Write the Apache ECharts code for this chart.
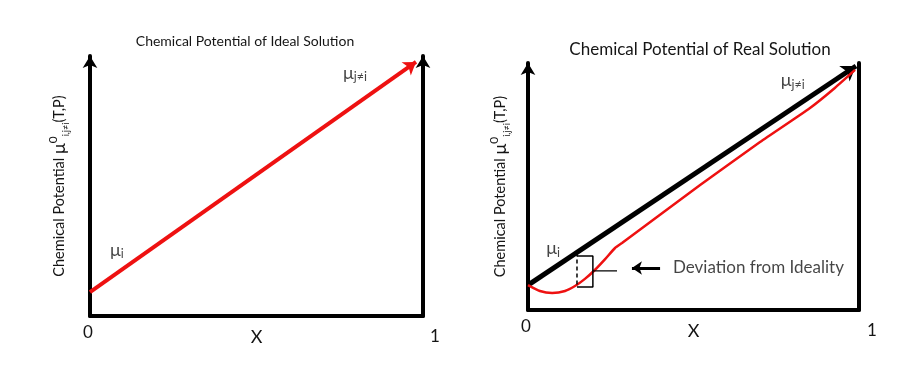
<!DOCTYPE html>
<html><head><meta charset="utf-8">
<script src="https://cdn.jsdelivr.net/npm/echarts@6/dist/echarts.min.js"></script>
<style>html,body{margin:0;padding:0;background:#fff}#c{width:911px;height:375px}</style>
</head><body><div id="c"></div>
<script>
// ---- data ----
var xTicks = [0, 1];
var idealLine = [[0, 0.092], [0.979, 0.977]];           // ideal solution μ (red arrow)
var realIdeal = [[0, 0.101], [0.991, 0.988]];           // ideal reference (black arrow)
var realCurveX = [0, 0.036, 0.073, 0.112, 0.142, 0.172, 0.202, 0.233, 0.263, 0.284, 0.520, 0.701, 0.852, 0.927, 0.988];
var realCurveY = [0.101, 0.077, 0.069, 0.077, 0.097, 0.126, 0.162, 0.206, 0.251, 0.271, 0.506, 0.680, 0.818, 0.899, 0.972];
var devDashed = [[0.148, 0.233], [0.148, 0.093]];
var devBracket = [[0.148, 0.219], [0.196, 0.219], [0.196, 0.093], [0.148, 0.093]];
var devTick = [[0.196, 0.158], [0.269, 0.158]];
var devArrow = [[0.314, 0.170], [0.399, 0.170]];
var leftLabels = [[0.081, 0.254, 'mu_i'], [0.796, 0.935, 'mu_j']];
var rightLabels = [[0.076, 0.251, 'mu_i'], [0.80, 0.931, 'mu_j'], [0.438, 0.170, 'dev']];

var FONT = 'Lato';
var TXT = '#151515';
var chart = echarts.init(document.getElementById('c'));
var realCurve = realCurveX.map(function (x, i) { return [x, realCurveY[i]]; });

var yNameRich = {
  b: { fontFamily: FONT, fontSize: 14.5, color: TXT, lineHeight: 24 },
  m: { fontFamily: FONT, fontSize: 18, color: TXT, lineHeight: 24 },
  sup: { fontFamily: FONT, fontSize: 12, color: TXT, verticalAlign: 'top', lineHeight: 18 },
  sub: { fontFamily: FONT, fontSize: 9, color: TXT, verticalAlign: 'bottom', lineHeight: 16 }
};
var yName = '{b|Chemical Potential }{m|μ}{sup|0}{sub|i,j≠i}{b|(T,P)}';

function xAxisFor(gi, shift) {
  return {
    gridIndex: gi, type: 'value', min: 0, max: 1, interval: 1,
    name: 'X', nameLocation: 'middle', nameGap: 12, nameMoveOverlap: false,
    nameTextStyle: { fontFamily: FONT, fontSize: 18, color: TXT, verticalAlign: 'top' },
    axisLine: { lineStyle: { color: '#000', width: 4 } },
    axisTick: { show: false }, splitLine: { show: false },
    axisLabel: {
      margin: 8, fontFamily: FONT, fontSize: 17, color: TXT,
      formatter: function (v) { return v === 1 ? '{r|1}' : '{l|0}'; },
      rich: {
        l: { fontFamily: FONT, fontSize: 17, color: TXT, padding: [0, 4, 0, 0] },
        r: { fontFamily: FONT, fontSize: 17, color: TXT, padding: [4, 0, 0, shift] }
      }
    }
  };
}
function yAxisFor(gi, pos, arrow, gap) {
  var o = {
    gridIndex: gi, type: 'value', min: 0, max: 1, position: pos,
    axisLine: { show: true, onZero: false, lineStyle: { color: '#000', width: 4 },
      symbol: arrow ? ['none', 'arrow'] : 'none', symbolSize: [11, 12] },
    axisTick: { show: false }, axisLabel: { show: false }, splitLine: { show: false }
  };
  if (pos === 'left') {
    o.name = yName; o.nameLocation = 'middle'; o.nameGap = gap; o.nameRotate = 90;
    o.nameMoveOverlap = false;
    o.nameTextStyle = { rich: yNameRich };
  }
  return o;
}
function muLabel(d) {
  if (d[2] === 'mu_i') return '{m|μ}{s|i}';
  if (d[2] === 'mu_j') return '{m|μ}{s|j≠i}';
  return '{d|Deviation from Ideality}';
}
var labelRich = {
  m: { fontFamily: FONT, fontSize: 18, color: TXT, lineHeight: 22 },
  s: { fontFamily: FONT, fontSize: 12.5, color: TXT, verticalAlign: 'bottom', lineHeight: 15 },
  d: { fontFamily: FONT, fontSize: 17, color: TXT }
};
function textSeries(xi, yi, arr) {
  return {
    type: 'scatter', xAxisIndex: xi, yAxisIndex: yi, symbolSize: 0, silent: true,
    data: arr.map(function (d) {
      return { value: [d[0], d[1]], label: {
        show: true, position: 'inside', formatter: muLabel(d), rich: labelRich,
        align: d[2] === 'dev' ? 'left' : 'center' } };
    })
  };
}

chart.setOption({
  animation: false,
  title: [
    { text: 'Chemical Potential of Ideal Solution', left: 240, top: 29, textAlign: 'center',
      textStyle: { fontFamily: FONT, fontSize: 14, fontWeight: 'normal', color: TXT } },
    { text: 'Chemical Potential of Real Solution', left: 695, top: 36, textAlign: 'center',
      textStyle: { fontFamily: FONT, fontSize: 17, fontWeight: 'normal', color: TXT } }
  ],
  grid: [
    { left: 90, top: 56, width: 333, height: 260 },
    { left: 528, top: 63, width: 331, height: 247 }
  ],
  xAxis: [xAxisFor(0, 24), xAxisFor(1, 26)],
  yAxis: [yAxisFor(0, 'left', true, 19), yAxisFor(0, 'right', true), yAxisFor(1, 'left', true, 16), yAxisFor(1, 'right', false)],
  series: [
    { type: 'lines', coordinateSystem: 'cartesian2d', xAxisIndex: 0, yAxisIndex: 0,
      symbol: ['none', 'arrow'], symbolSize: 12,
      lineStyle: { color: '#ee1111', width: 4, opacity: 1 },
      data: [{ coords: idealLine }] },
    { type: 'line', xAxisIndex: 1, yAxisIndex: 2, data: realCurve, smooth: 0.2, showSymbol: false,
      lineStyle: { color: '#ee1111', width: 2.5 } },
    { type: 'lines', coordinateSystem: 'cartesian2d', xAxisIndex: 1, yAxisIndex: 2,
      symbol: ['none', 'arrow'], symbolSize: 14,
      lineStyle: { color: '#000', width: 5, opacity: 1 },
      data: [{ coords: realIdeal }] },
    { type: 'line', xAxisIndex: 1, yAxisIndex: 2, data: devDashed, showSymbol: false,
      lineStyle: { color: '#000', width: 1.5, type: [4, 3] } },
    { type: 'line', xAxisIndex: 1, yAxisIndex: 2, data: devBracket, showSymbol: false,
      lineStyle: { color: '#000', width: 1.5 } },
    { type: 'line', xAxisIndex: 1, yAxisIndex: 2, data: devTick, showSymbol: false,
      lineStyle: { color: '#000', width: 1.2 } },
    { type: 'lines', coordinateSystem: 'cartesian2d', xAxisIndex: 1, yAxisIndex: 2,
      symbol: ['arrow', 'none'], symbolSize: 10,
      lineStyle: { color: '#000', width: 3, opacity: 1 },
      data: [{ coords: devArrow }] },
    textSeries(0, 0, leftLabels),
    textSeries(1, 2, rightLabels)
  ]
});
</script></body></html>
